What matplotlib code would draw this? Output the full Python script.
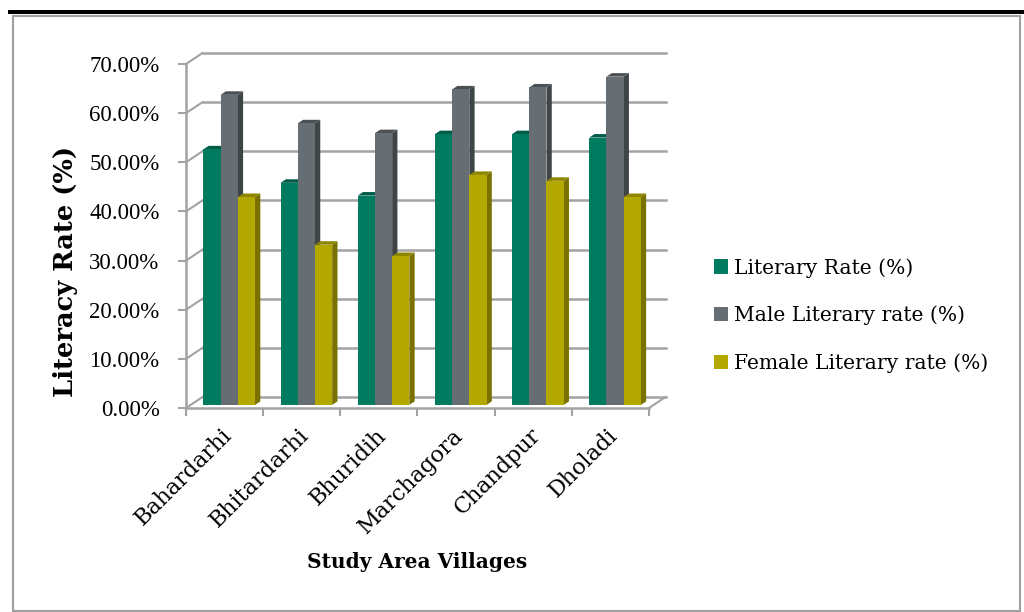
import matplotlib.pyplot as plt
from matplotlib.patches import Polygon, Rectangle
import matplotlib.transforms as mtransforms

villages = ["Bahardarhi", "Bhitardarhi", "Bhuridih", "Marchagora", "Chandpur", "Dholadi"]
literacy = [52.0, 45.2, 42.6, 55.1, 55.1, 54.4]
male = [63.1, 57.3, 55.3, 64.2, 64.6, 66.8]
female = [42.3, 32.6, 30.3, 46.8, 45.6, 42.3]
series_names = ["Literary Rate (%)", "Male Literary rate (%)", "Female Literary rate (%)"]
yticks = [0, 10, 20, 30, 40, 50, 60, 70]

# front, top, side shades
colors = [("#007b5f", "#005c47", "#004d3b"),
          ("#666d73", "#4a5054", "#3f4447"),
          ("#b3a800", "#8f8600", "#7a7200")]

FONT = "DejaVu Serif"
W = 1024
H = 612
fig = plt.figure(figsize=(W / 100, H / 100), dpi=100)

# outer frame + thick black rule on top
fig.patches.append(Rectangle((12.5 / W, 1.0 / H), 1007 / W, 595 / H, transform=fig.transFigure,
                             fill=False, edgecolor="#a0a0a0", lw=1.5))
fig.patches.append(Rectangle((8 / W, (H - 14) / H), (W - 8) / W, 4 / H, transform=fig.transFigure,
                             facecolor="black", edgecolor="none"))

ax = fig.add_axes([186 / W, 204 / H, 463 / W, 344 / H])
ax.set_xlim(-0.5, 5.5)
ax.set_ylim(0, 70)
ax.patch.set_alpha(0)

DX = 0.214   # depth offset, category units
DY = 2.24    # depth offset, percent units
d0, d1 = 0.28, 0.60
bw = 0.223
grid_c = "#a3a3a3"

# back wall gridlines and left wall edges
for v in yticks:
    ax.plot([-0.5 + DX, 5.5 + DX], [v + DY, v + DY], color=grid_c, lw=1.8, clip_on=False, zorder=1)
    ax.plot([-0.5, -0.5 + DX], [v, v + DY], color=grid_c, lw=1.5, clip_on=False, zorder=1)
ax.plot([5.5, 5.5 + DX], [0, DY], color=grid_c, lw=1.5, clip_on=False, zorder=1)

# spines / ticks
for s in ["top", "right"]:
    ax.spines[s].set_visible(False)
for s in ["left", "bottom"]:
    ax.spines[s].set_color(grid_c)
    ax.spines[s].set_linewidth(1.8)
ax.set_yticks(yticks)
ax.set_yticklabels([f"{v:.2f}%" for v in yticks], fontsize=16.5, family="Liberation Serif")
ax.set_xticks([i - 0.5 for i in range(7)])
ax.set_xticklabels([])
ax.tick_params(axis="both", color=grid_c, width=1.5, length=6)
ax.tick_params(axis="y", pad=13)

# pseudo-3D bars
data = [literacy, male, female]
z = 3
for i in range(len(villages)):
    for j, vals in enumerate(data):
        v = vals[i]
        fc, tc, sc = colors[j]
        x0 = i - 1.5 * bw + j * bw + d0 * DX
        x1 = x0 + bw
        b0 = d0 * DY
        sx = (d1 - d0) * DX
        sy = (d1 - d0) * DY
        side = Polygon([(x1, b0), (x1 + sx, b0 + sy), (x1 + sx, v + b0 + sy), (x1, v + b0)],
                       closed=True, facecolor=sc, edgecolor="none", zorder=z, clip_on=False)
        top = Polygon([(x0, v + b0), (x1, v + b0), (x1 + sx, v + b0 + sy), (x0 + sx, v + b0 + sy)],
                      closed=True, facecolor=tc, edgecolor="none", zorder=z, clip_on=False)
        ax.add_patch(side)
        ax.add_patch(top)
        ax.bar(x0, v, width=bw, bottom=b0, align="edge", color=fc, zorder=z + 1,
               label=series_names[j] if i == 0 else None, clip_on=False)
        z += 2

# category labels, rotated
off = mtransforms.offset_copy(ax.transData, fig=fig, x=4, y=-24, units="dots")
for i, name in enumerate(villages):
    ax.text(i, 0, name, transform=off, rotation=45, ha="right", va="center",
            rotation_mode="anchor", fontsize=16, family=FONT)

fig.text(65 / W, 1 - 271 / H, "Literacy Rate (%)", rotation=90, ha="center", va="center",
         fontsize=18.5, fontweight="bold", family=FONT)
fig.text(417 / W, 1 - 562 / H, "Study Area Villages", ha="center", va="center",
         fontsize=14.5, fontweight="bold", family=FONT)

leg = ax.legend(loc="upper left", bbox_to_anchor=(714 / W, 1 - 258 / H),
                bbox_transform=fig.transFigure, frameon=False,
                prop={"family": FONT, "size": 14.6}, handlelength=0.7, handleheight=0.7,
                handletextpad=0.3, labelspacing=1.38, borderpad=0, borderaxespad=0)

fig.savefig("out.png", dpi=100)
